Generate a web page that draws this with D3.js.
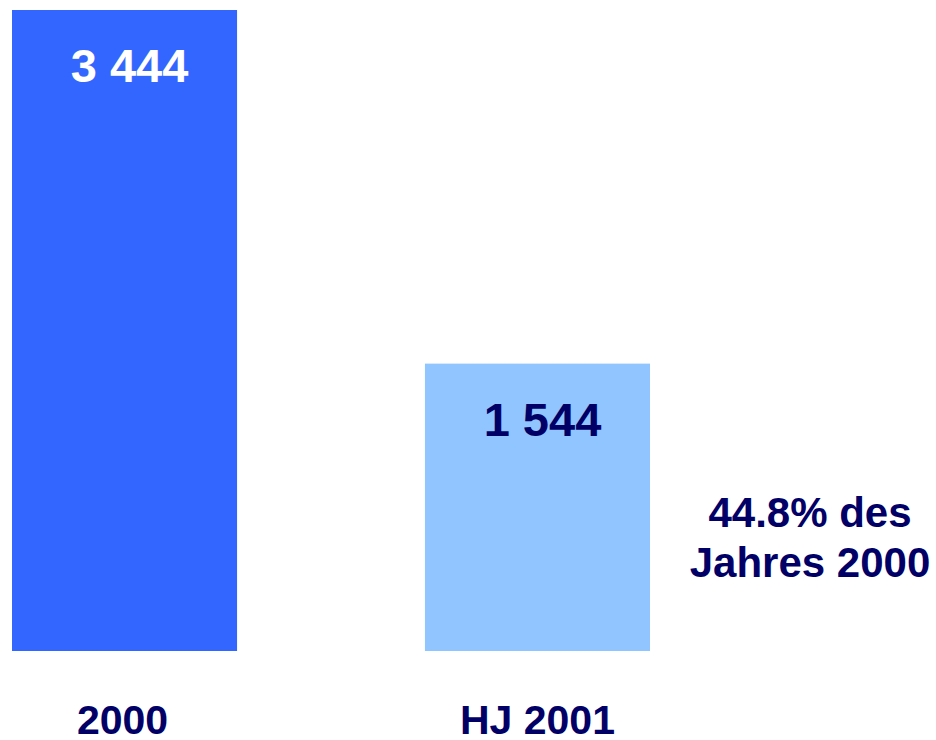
<!DOCTYPE html>
<html>
<head>
<meta charset="utf-8">
<script src="https://cdn.jsdelivr.net/npm/d3@7"></script>
<style>
  body { margin: 0; background: #fff; }
  svg { display: block; font-family: Arial, "Liberation Sans", sans-serif; font-weight: bold; }
</style>
</head>
<body>
<svg id="chart"></svg>
<script>
// data
const categories = ["2000", "HJ 2001"];
const values = [3444, 1544];
const valueLabels = ["3 444", "1 544"];
const noteLines = ["44.8% des", "Jahres 2000"];

const W = 936, H = 740;
const barColors = ["#3366FF", "#91C5FF"];
const valueColors = ["#FFFFFF", "#000066"];
const navy = "#000066";

const svg = d3.select("#chart").attr("width", W).attr("height", H);

svg.append("rect").attr("width", W).attr("height", H).attr("fill", "#fff");

const x = d3.scaleBand()
    .domain(categories)
    .range([12, 650])
    .paddingInner(0.455)
    .paddingOuter(0);

const y = d3.scaleLinear()
    .domain([0, d3.max(values)])
    .range([651, 10]);

const data = categories.map((c, i) => ({cat: c, v: values[i], label: valueLabels[i], i: i}));

// bars
svg.selectAll(".bar")
  .data(data)
  .enter().append("rect")
  .attr("class", "bar")
  .attr("x", d => x(d.cat))
  .attr("y", d => y(d.v))
  .attr("width", x.bandwidth())
  .attr("height", d => y(0) - y(d.v))
  .attr("fill", d => barColors[d.i]);

// value labels inside bars
svg.selectAll(".val")
  .data(data)
  .enter().append("text")
  .attr("class", "val")
  .attr("x", d => x(d.cat) + x.bandwidth() / 2 + 5)
  .attr("y", d => y(d.v) + 72)
  .attr("text-anchor", "middle")
  .attr("font-size", 47)
  .attr("fill", d => valueColors[d.i])
  .text(d => d.label);

// category labels
svg.selectAll(".cat")
  .data(data)
  .enter().append("text")
  .attr("class", "cat")
  .attr("x", d => x(d.cat) + x.bandwidth() / 2 - (d.i === 0 ? 2 : 0))
  .attr("y", 734)
  .attr("text-anchor", "middle")
  .attr("font-size", 41)
  .attr("fill", navy)
  .text(d => d.cat);

// note
svg.append("text")
  .attr("x", 810)
  .attr("y", 527)
  .attr("text-anchor", "middle")
  .attr("font-size", 42)
  .attr("fill", navy)
  .selectAll("tspan")
  .data(noteLines)
  .enter().append("tspan")
  .attr("x", 810)
  .attr("dy", (d, i) => i === 0 ? 0 : 50)
  .text(d => d);
</script>
</body>
</html>
